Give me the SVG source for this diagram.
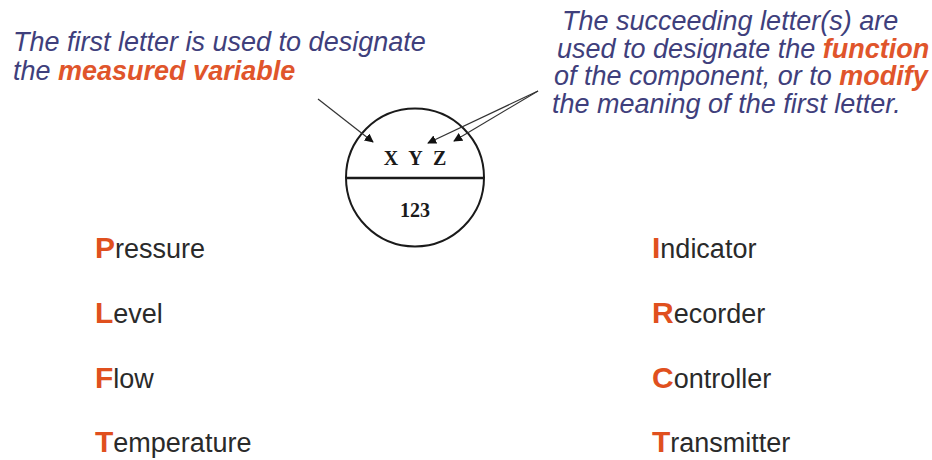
<svg xmlns="http://www.w3.org/2000/svg" width="932" height="460" viewBox="0 0 932 460">
<style>
.note{font-family:"Liberation Sans",Arial,sans-serif;font-style:italic;font-size:27px;fill:#3f3f7c}
.em{font-weight:bold;fill:#e0552b}
.sym{font-family:"Liberation Serif","Times New Roman",serif;font-weight:bold;fill:#1a1a1a;text-anchor:middle}
.item{font-family:"Liberation Sans",Arial,sans-serif;font-size:27px;fill:#2a2a2a}
.first{font-weight:bold;font-size:30px;fill:#e0501e}
.conn{stroke:#333;stroke-width:1.2;fill:none;marker-end:url(#ah)}
</style>
<defs>
<marker id="ah" viewBox="0 0 10 10" refX="9" refY="5" markerWidth="9" markerHeight="9" markerUnits="userSpaceOnUse" orient="auto">
<path d="M0,0 L10,5 L0,10 z" fill="#111"/>
</marker>
</defs>
<rect width="932" height="460" fill="#ffffff"/>
<g id="note-first">
<text class="note" x="13" y="51">The first letter is used to designate</text>
<text class="note" x="13" y="80">the <tspan class="em">measured variable</tspan></text>
</g>
<g id="note-succeeding">
<text class="note" x="562" y="30">The succeeding letter(s) are</text>
<text class="note" x="557" y="57.5">used to designate the <tspan class="em">function</tspan></text>
<text class="note" x="554" y="85">of the component, or to <tspan class="em">modify</tspan></text>
<text class="note" x="552" y="112.5">the meaning of the first letter.</text>
</g>
<g id="instrument">
<circle cx="415" cy="177.5" r="69" fill="#fff" stroke="#1a1a1a" stroke-width="2"/>
<line x1="346" y1="178" x2="484" y2="178" stroke="#1a1a1a" stroke-width="2.5"/>
<text class="sym" x="415" y="165" font-size="20" word-spacing="6">X Y Z</text>
<text class="sym" x="415" y="217" font-size="20">123</text>
</g>
<g id="connectors">
<line class="conn" x1="318" y1="99" x2="373" y2="142"/>
<line class="conn" x1="538" y1="91" x2="428" y2="143"/>
<line class="conn" x1="538" y1="91" x2="454" y2="141"/>
</g>
<g id="variables">
<text class="item" x="95" y="258"><tspan class="first">P</tspan>ressure</text>
<text class="item" x="95" y="323"><tspan class="first">L</tspan>evel</text>
<text class="item" x="95" y="388"><tspan class="first">F</tspan>low</text>
<text class="item" x="95" y="452"><tspan class="first">T</tspan>emperature</text>
</g>
<g id="functions">
<text class="item" x="652" y="258"><tspan class="first">I</tspan>ndicator</text>
<text class="item" x="652" y="323"><tspan class="first">R</tspan>ecorder</text>
<text class="item" x="652" y="388"><tspan class="first">C</tspan>ontroller</text>
<text class="item" x="652" y="452"><tspan class="first">T</tspan>ransmitter</text>
</g>
</svg>
